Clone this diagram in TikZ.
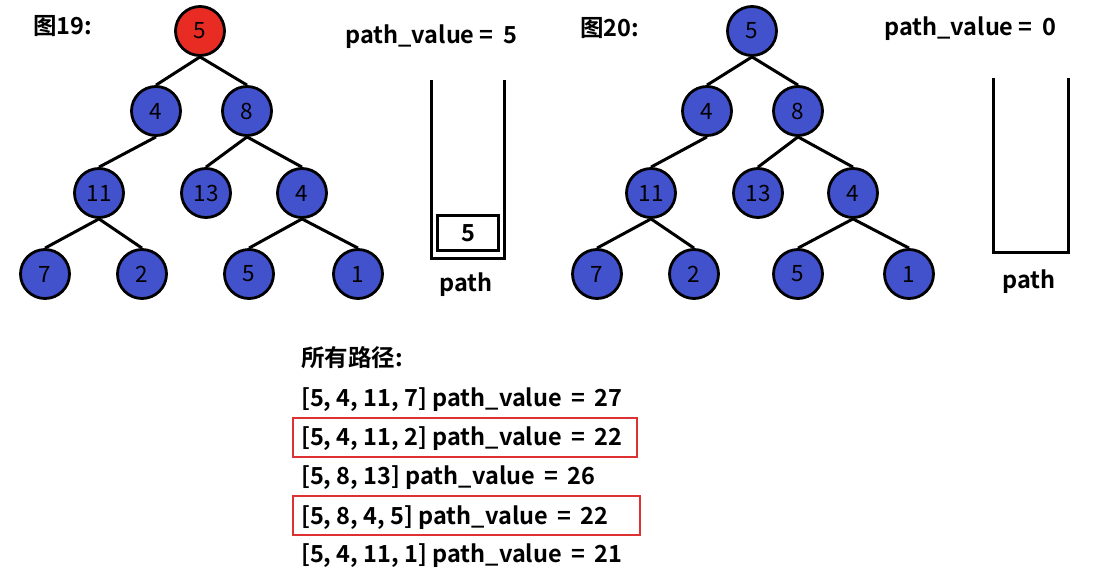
\documentclass[tikz,border=0pt]{standalone}
\usepackage{fontspec}
\setmainfont{Noto Sans CJK SC}[BoldFont={Noto Sans CJK SC Bold}]
\begin{document}
\begin{tikzpicture}[x=1pt,y=-1pt,
  tn/.style={circle,draw=black,line width=2.8pt,fill=nodeblue,minimum size=49pt,inner sep=0pt,font=\fontsize{22.5}{22}\selectfont},
  rn/.style={tn,fill=nodered},
  edge/.style={line width=3pt,black},
  wall/.style={line width=3pt,black},
  lbl/.style={font=\fontsize{23.5}{26}\selectfont\bfseries,inner sep=0pt},
  lline/.style={lbl,anchor=mid west},
  redbox/.style={draw=boxred,line width=2.4pt}]
\definecolor{nodeblue}{RGB}{66,82,204}
\definecolor{nodered}{RGB}{232,44,36}
\definecolor{boxred}{RGB}{222,50,50}
\useasboundingbox (0,0) rectangle (1097,573);
\fill[white] (0,0) rectangle (1097,573);
% ---- tree 1 ----
\node[lbl,anchor=mid west] (t19) at (33,32) {图19:};
\node[rn] (a0) at (200,31) {5};
\node[tn] (a1) at (156,111) {4};
\node[tn] (a2) at (247,111) {8};
\node[tn] (a3) at (99,193) {11};
\node[tn] (a4) at (206,193) {13};
\node[tn] (a5) at (302,193) {4};
\node[tn] (a6) at (45,274) {7};
\node[tn] (a7) at (142,274) {2};
\node[tn] (a8) at (249,274) {5};
\node[tn] (a9) at (358,274) {1};
\draw[edge] (a0.south)--(a1.north) (a0.south)--(a2.north) (a1.south)--(a3.north)
  (a2.south)--(a4.north) (a2.south)--(a5.north)
  (a3.south)--(a6.north) (a3.south)--(a7.north) (a5.south)--(a8.north) (a5.south)--(a9.north);
\node[lbl,anchor=mid west] (pv1) at (345,41) {path\_value =\, 5};
\coordinate (s1a) at (431,80);
\coordinate (s1b) at (431,258);
\coordinate (s1c) at (504,258);
\coordinate (s1d) at (504,80);
\draw[wall] (s1a)--(s1b)--(s1c)--(s1d);
\node[draw,line width=2.4pt,minimum width=61pt,minimum height=35pt,inner sep=0pt,lbl] (b1) at (468,233) {5};
\node[lbl] (p1) at (466,285) {path};
% ---- tree 2 ----
\node[lbl,anchor=mid west] (t20) at (580,34) {图20:};
\node[tn] (c0) at (752,31) {5};
\node[tn] (c1) at (707,111) {4};
\node[tn] (c2) at (798,111) {8};
\node[tn] (c3) at (651,193) {11};
\node[tn] (c4) at (758,193) {13};
\node[tn] (c5) at (853,193) {4};
\node[tn] (c6) at (597,274) {7};
\node[tn] (c7) at (694,274) {2};
\node[tn] (c8) at (798,274) {5};
\node[tn] (c9) at (909,274) {1};
\draw[edge] (c0.south)--(c1.north) (c0.south)--(c2.north) (c1.south)--(c3.north)
  (c2.south)--(c4.north) (c2.south)--(c5.north)
  (c3.south)--(c6.north) (c3.south)--(c7.north) (c5.south)--(c8.north) (c5.south)--(c9.north);
\node[lbl,anchor=mid west] (pv2) at (884,33) {path\_value =\, 0};
\coordinate (s2a) at (993,78);
\coordinate (s2b) at (993,252);
\coordinate (s2c) at (1068,252);
\coordinate (s2d) at (1068,78);
\draw[wall] (s2a)--(s2b)--(s2c)--(s2d);
\node[lbl] (p2) at (1029,282) {path};
% ---- paths ----
\node[lline] (h) at (301,364) {所有路径:};
\node[lline] (l1) at (301,404) {[5, 4, 11, 7] path\_value \,=\, 27};
\node[lline] (l2) at (301,443) {[5, 4, 11, 2] path\_value \,=\, 22};
\node[lline] (l3) at (301,482) {[5, 8, 13] path\_value \,=\, 26};
\node[lline] (l4) at (301,522) {[5, 8, 4, 5] path\_value \,=\, 22};
\node[lline] (l5) at (301,560) {[5, 4, 11, 1] path\_value \,=\, 21};
\draw[redbox] (293,418) rectangle (637,457);
\draw[redbox] (293,496) rectangle (640,535);
\end{tikzpicture}
\end{document}
